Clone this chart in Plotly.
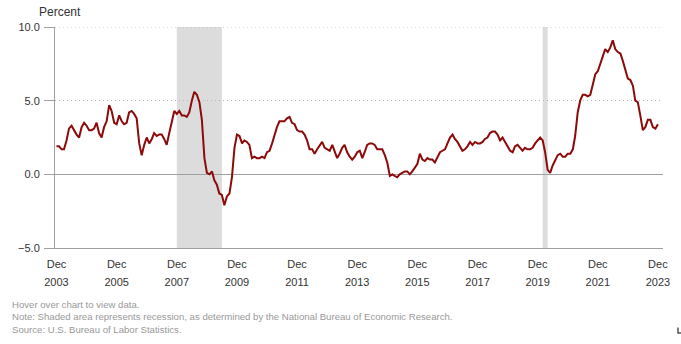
import pandas as pd
import plotly.graph_objects as go

# 12-month percent change, Dec 2003 - Dec 2023 (monthly)
values = [
    1.9,
    1.9, 1.7, 1.7, 2.3, 3.1, 3.3, 3.0, 2.7, 2.5, 3.2, 3.5, 3.3,   # 2004
    3.0, 3.0, 3.1, 3.5, 2.8, 2.5, 3.2, 3.6, 4.7, 4.3, 3.5, 3.4,   # 2005
    4.0, 3.6, 3.4, 3.5, 4.2, 4.3, 4.1, 3.8, 2.1, 1.3, 2.0, 2.5,   # 2006
    2.1, 2.4, 2.8, 2.6, 2.7, 2.7, 2.4, 2.0, 2.8, 3.5, 4.3, 4.1,   # 2007
    4.3, 4.0, 4.0, 3.9, 4.2, 5.0, 5.6, 5.4, 4.9, 3.7, 1.1, 0.1,   # 2008
    0.0, 0.2, -0.4, -0.7, -1.3, -1.4, -2.1, -1.5, -1.3, -0.2, 1.8, 2.7,  # 2009
    2.6, 2.1, 2.3, 2.2, 2.0, 1.1, 1.2, 1.1, 1.1, 1.2, 1.1, 1.5,   # 2010
    1.6, 2.1, 2.7, 3.2, 3.6, 3.6, 3.6, 3.8, 3.9, 3.5, 3.4, 3.0,   # 2011
    2.9, 2.9, 2.7, 2.3, 1.7, 1.7, 1.4, 1.7, 2.0, 2.2, 1.8, 1.7,   # 2012
    1.6, 2.0, 1.5, 1.1, 1.4, 1.8, 2.0, 1.5, 1.2, 1.0, 1.2, 1.5,   # 2013
    1.6, 1.1, 1.5, 2.0, 2.1, 2.1, 2.0, 1.7, 1.7, 1.7, 1.3, 0.8,   # 2014
    -0.1, 0.0, -0.1, -0.2, 0.0, 0.1, 0.2, 0.2, 0.0, 0.2, 0.5, 0.7,  # 2015
    1.4, 1.0, 0.9, 1.1, 1.0, 1.0, 0.8, 1.1, 1.5, 1.6, 1.7, 2.1,   # 2016
    2.5, 2.7, 2.4, 2.2, 1.9, 1.6, 1.7, 1.9, 2.2, 2.0, 2.2, 2.1,   # 2017
    2.1, 2.2, 2.4, 2.5, 2.8, 2.9, 2.9, 2.7, 2.3, 2.5, 2.2, 1.9,   # 2018
    1.6, 1.5, 1.9, 2.0, 1.8, 1.6, 1.8, 1.7, 1.7, 1.8, 2.1, 2.3,   # 2019
    2.5, 2.3, 1.5, 0.3, 0.1, 0.6, 1.0, 1.3, 1.4, 1.2, 1.2, 1.4,   # 2020
    1.4, 1.7, 2.6, 4.2, 5.0, 5.4, 5.4, 5.3, 5.4, 6.2, 6.8, 7.0,   # 2021
    7.5, 7.9, 8.5, 8.3, 8.6, 9.1, 8.5, 8.3, 8.2, 7.7, 7.1, 6.5,   # 2022
    6.4, 6.0, 5.0, 4.9, 4.0, 3.0, 3.2, 3.7, 3.7, 3.2, 3.1, 3.4,   # 2023
]
months = pd.date_range("2003-12-01", periods=len(values), freq="MS")

tick_years = ["2003", "2005", "2007", "2009", "2011", "2013",
              "2015", "2017", "2019", "2021", "2023"]
tick_dates = [f"{y}-12-01" for y in tick_years]
tick_month = ["Dec"] * len(tick_years)

y_ticks = [-5.0, 0.0, 5.0, 10.0]
y_min, y_max = -5, 10

recessions = [("2007-12-01", "2009-06-01"), ("2020-02-01", "2020-04-01")]

x_range = ["2003-11-13", "2024-02-01"]

FONT = "Liberation Sans"
LINE_COLOR = "#8c0a0a"
AXIS_GRAY = "#a0a0a0"
GRID_GRAY = "#b4b4b4"
GRID_DASH = "1px,3px"

fig = go.Figure()
fig.add_trace(go.Scatter(
    x=months, y=values, mode="lines",
    line=dict(color=LINE_COLOR, width=2),
    hovertemplate="%{x|%b %Y}: %{y:.1f}<extra></extra>",
    showlegend=False,
))
# invisible carrier trace for the year-label axis
fig.add_trace(go.Scatter(
    x=months, y=values, mode="lines", xaxis="x2",
    line=dict(color="rgba(0,0,0,0)", width=0),
    hoverinfo="skip", showlegend=False,
))

for x0, x1 in recessions:
    fig.add_shape(type="rect", xref="x", yref="y", x0=x0, x1=x1,
                  y0=y_min, y1=y_max, fillcolor="#dcdcdc", line_width=0,
                  layer="below")

# top dotted gridline (at the edge of the range)
fig.add_shape(type="line", xref="paper", yref="y", x0=0, x1=1,
              y0=y_max, y1=y_max, layer="above",
              line=dict(color=GRID_GRAY, width=1, dash=GRID_DASH))

fig.update_layout(
    width=681, height=344,
    margin=dict(l=55, r=18, t=27, b=96),
    paper_bgcolor="white", plot_bgcolor="white",
    font=dict(family=FONT, size=11, color="#333333"),
    xaxis=dict(
        type="date", range=x_range,
        tickmode="array", tickvals=tick_dates, ticktext=tick_month,
        ticks="", showgrid=False, zeroline=False,
        showline=True, linecolor=AXIS_GRAY, linewidth=1,
        tickfont=dict(size=11, color="#333333"),
        ticklabelstandoff=6,
    ),
    xaxis2=dict(
        type="date", range=x_range, overlaying="x", anchor="y", side="bottom",
        tickmode="array", tickvals=tick_dates, ticktext=tick_years,
        ticks="", showgrid=False, zeroline=False, showline=False,
        tickfont=dict(size=11, color="#333333"),
        ticklabelstandoff=26,
    ),
    yaxis=dict(
        range=[y_min, y_max], tickmode="array", tickvals=y_ticks,
        tickformat=".1f",
        ticks="outside", ticklen=10, tickcolor=AXIS_GRAY, tickwidth=1,
        showline=True, linecolor=AXIS_GRAY, linewidth=1,
        showgrid=True, gridcolor=GRID_GRAY, griddash=GRID_DASH, gridwidth=1,
        zeroline=True, zerolinecolor=AXIS_GRAY, zerolinewidth=1,
        tickfont=dict(size=11, color="#333333"),
        ticklabelstandoff=2,
    ),
    annotations=[
        dict(text="Percent", xref="paper", yref="paper", x=-0.03, y=1.0,
             xanchor="left", yanchor="bottom", yshift=6, showarrow=False,
             font=dict(size=12, color="#333333")),
        dict(text="Hover over chart to view data.<br>"
                  "Note: Shaded area represents recession, as determined by the National Bureau of Economic Research.<br>"
                  "Source: U.S. Bureau of Labor Statistics.",
             xref="paper", yref="paper", x=-45/608, y=-(297 - 248.3) / 221.3,
             xanchor="left", yanchor="top", align="left", showarrow=False,
             font=dict(size=9.6, color="#999999")),
    ],
)

# small resize handle mark at the bottom-right corner
fig.add_shape(type="path", xref="paper", yref="paper",
              path=f"M {(678-55)/608} {(248.3-328)/221.3} L {(678-55)/608} {(248.3-333.5)/221.3} L {(682-55)/608} {(248.3-333.5)/221.3}",
              line=dict(color="#555555", width=1.5))

fig.write_html("out.html")
